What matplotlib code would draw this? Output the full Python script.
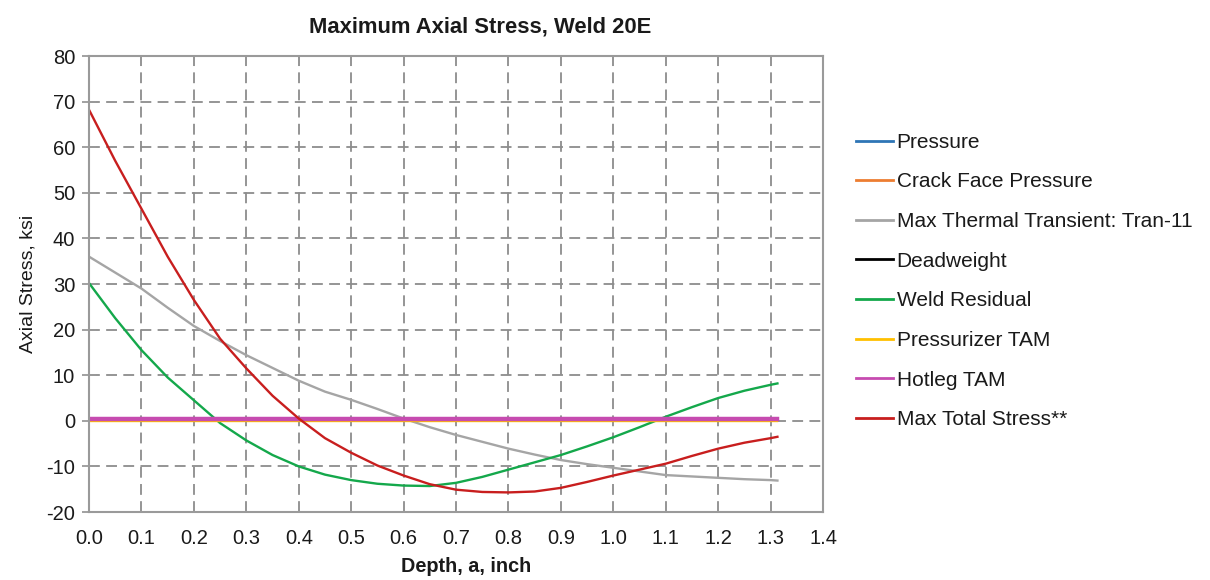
import matplotlib
matplotlib.use("Agg")
import matplotlib.pyplot as plt

plt.rcParams['font.family'] = ['Liberation Sans', 'DejaVu Sans']
plt.rcParams['axes.unicode_minus'] = False

# Crack depth (inch) at which the stress profiles are tabulated
depth = [0.00, 0.05, 0.10, 0.15, 0.20, 0.25, 0.30, 0.35, 0.40, 0.45,
         0.50, 0.55, 0.60, 0.65, 0.70, 0.75, 0.80, 0.85, 0.90, 0.95,
         1.00, 1.05, 1.10, 1.15, 1.20, 1.25, 1.30, 1.313]

# Axial stress components (ksi)
thermal_tran11 = [36.0, 32.5, 29.0, 24.8, 20.8, 17.5, 14.4, 11.6, 8.8, 6.4,
                  4.6, 2.6, 0.5, -1.4, -3.1, -4.6, -6.1, -7.4, -8.6, -9.5,
                  -10.3, -11.1, -11.9, -12.2, -12.5, -12.8, -13.0, -13.1]
weld_residual = [30.2, 22.5, 15.5, 9.5, 4.5, -0.5, -4.3, -7.5, -10.0, -11.8,
                 -13.0, -13.8, -14.2, -14.3, -13.6, -12.3, -10.7, -9.1, -7.5, -5.6,
                 -3.6, -1.4, 0.9, 3.0, 5.0, 6.6, 7.9, 8.2]
max_total = [68.2, 57.0, 46.5, 36.0, 26.5, 18.0, 11.5, 5.5, 0.5, -3.8,
             -7.0, -9.8, -12.0, -13.9, -15.1, -15.6, -15.7, -15.5, -14.7, -13.4,
             -12.0, -10.7, -9.4, -7.7, -6.1, -4.8, -3.8, -3.5]

# Near-zero load components, uniform through the wall
flat_depth = [0.0, 1.313]
pressure = [0.5, 0.5]
crack_face_pressure = [0.1, 0.1]
deadweight = [0.3, 0.3]
pressurizer_tam = [0.0, 0.0]
hotleg_tam = [0.4, 0.4]

labels = ["Pressure", "Crack Face Pressure", "Max Thermal Transient: Tran-11",
          "Deadweight", "Weld Residual", "Pressurizer TAM", "Hotleg TAM",
          "Max Total Stress**"]
colors = ["#2E75B6", "#ED7D31", "#A5A5A5", "#000000", "#14A84B",
          "#FFC000", "#C64BB0", "#C81E1E"]

x_ticks = [0.0, 0.1, 0.2, 0.3, 0.4, 0.5, 0.6, 0.7, 0.8, 0.9, 1.0, 1.1, 1.2, 1.3, 1.4]
y_ticks = [-20, -10, 0, 10, 20, 30, 40, 50, 60, 70, 80]

fig = plt.figure(figsize=(12.1, 5.8), dpi=100)
ax = fig.add_axes([0.0736, 0.1172, 0.6066, 0.7862])

lw = 1.7
h = []
h += ax.plot(flat_depth, pressure, color=colors[0], lw=lw, label=labels[0])
h += ax.plot(flat_depth, crack_face_pressure, color=colors[1], lw=lw, label=labels[1])
h += ax.plot(depth, thermal_tran11, color=colors[2], lw=lw, label=labels[2])
h += ax.plot(flat_depth, deadweight, color=colors[3], lw=lw, label=labels[3])
h += ax.plot(depth, weld_residual, color=colors[4], lw=lw, label=labels[4])
h += ax.plot(flat_depth, pressurizer_tam, color=colors[5], lw=lw, label=labels[5])
h += ax.plot(flat_depth, hotleg_tam, color=colors[6], lw=3.2, label=labels[6])
h += ax.plot(depth, max_total, color=colors[7], lw=lw, label=labels[7])

ax.set_xlim(0, 1.4)
ax.set_ylim(-20, 80)
ax.set_xticks(x_ticks)
ax.set_xticklabels([f"{v:.1f}" for v in x_ticks])
ax.set_yticks(y_ticks)

ax.grid(True, color="#8C8C8C", lw=1.3, linestyle=(0, (6, 3.5)))
ax.set_axisbelow(True)
ax.get_xgridlines()[-1].set_visible(False)
ax.get_xgridlines()[0].set_visible(False)
ax.get_ygridlines()[-1].set_visible(False)

for s in ax.spines.values():
    s.set_color("#9A9A9A")
    s.set_linewidth(1.5)

ax.tick_params(axis="y", direction="inout", length=10, width=1.3, color="#9A9A9A",
               labelsize=14.5, pad=5, labelcolor="#1A1A1A")
ax.tick_params(axis="x", length=0, labelsize=14.5, pad=12, labelcolor="#1A1A1A")

ax.set_xlabel("Depth, a, inch", fontsize=14.3, fontweight="bold", color="#1A1A1A")
ax.xaxis.set_label_coords(0.514, -0.098)
ax.set_ylabel("Axial Stress, ksi", fontsize=14, color="#1A1A1A", labelpad=7)
ax.set_title("Maximum Axial Stress, Weld 20E", fontsize=15.8, fontweight="bold",
             color="#1A1A1A", pad=17, x=0.533)

leg = fig.legend(handles=h, labels=labels, loc="upper left",
                 bbox_to_anchor=(0.7074, 0.771), frameon=False, fontsize=15,
                 handlelength=1.8, handletextpad=0.15, labelspacing=0.99,
                 borderaxespad=0.0, borderpad=0.0)
for t in leg.get_texts():
    t.set_color("#1A1A1A")
for ln in leg.get_lines():
    ln.set_linewidth(2.0)

fig.savefig("out.png", dpi=100)
